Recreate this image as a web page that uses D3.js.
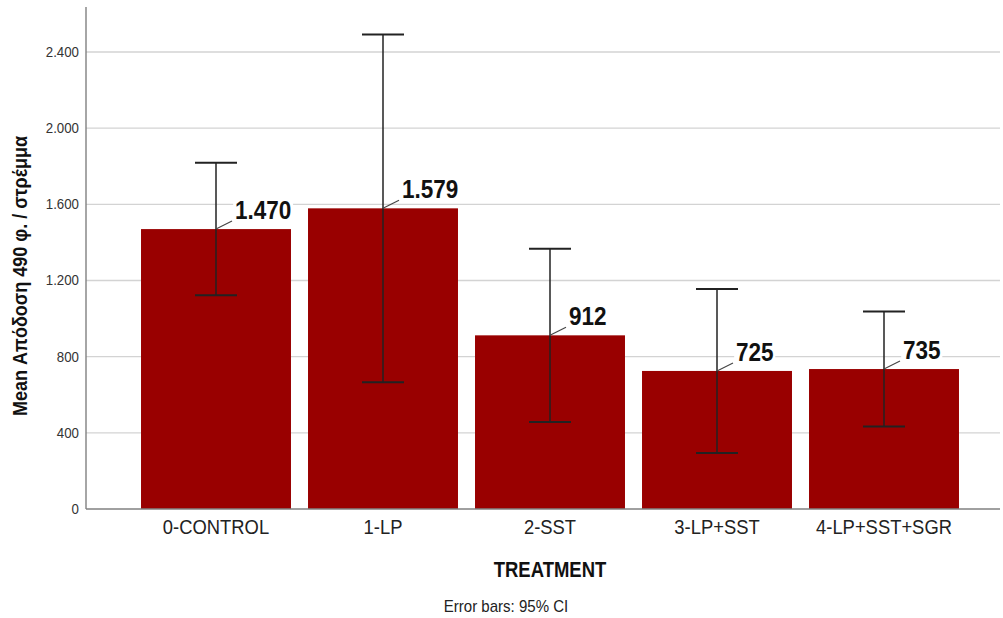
<!DOCTYPE html>
<html>
<head>
<meta charset="utf-8">
<script src="https://cdn.jsdelivr.net/npm/d3@7"></script>
<style>
  body { margin: 0; background: #fff; }
  svg { display: block; }
  text { font-family: "Liberation Sans", Arial, sans-serif; }
</style>
</head>
<body>
<svg id="chart" width="1003" height="618"></svg>
<script>
// Mean yield per treatment with 95% confidence limits
const treatments = ["0-CONTROL", "1-LP", "2-SST", "3-LP+SST", "4-LP+SST+SGR"];
const meanYield  = [1470, 1579, 912, 725, 735];
const ciLower    = [1122, 666, 457, 294, 433];
const ciUpper    = [1818, 2492, 1367, 1156, 1037];
const yTicks     = [0, 400, 800, 1200, 1600, 2000, 2400];
const yTitle   = "Mean Απόδοση 490 φ. / στρέμμα";
const xTitle   = "TREATMENT";
const footnote = "Error bars: 95% CI";

const rows = treatments.map((t, i) => ({
  name: t, mean: meanYield[i], lo: ciLower[i], hi: ciUpper[i]
}));

const svg = d3.select("#chart");
const plot = { left: 86, right: 1000, top: 7, bottom: 509 };

const y = d3.scaleLinear().domain([0, 2400]).range([plot.bottom, 52]);
const x = d3.scaleBand()
  .domain(treatments)
  .range([132.5, 967.5])
  .paddingInner(0.102)
  .paddingOuter(0.051);

// Greek-style number format: dot as thousands separator
const locale = d3.formatLocale({ decimal: ",", thousands: ".", grouping: [3], currency: ["", "€"] });
const fmt = locale.format(",d");

// horizontal gridlines
svg.append("g")
  .selectAll("line")
  .data(yTicks.filter(d => d > 0))
  .join("line")
  .attr("x1", plot.left).attr("x2", plot.right)
  .attr("y1", d => y(d)).attr("y2", d => y(d))
  .attr("stroke", "#d3d3d3")
  .attr("stroke-width", 1.4);

// bars
svg.append("g")
  .selectAll("rect")
  .data(rows)
  .join("rect")
  .attr("x", d => x(d.name))
  .attr("width", x.bandwidth())
  .attr("y", d => y(d.mean))
  .attr("height", d => y(0) - y(d.mean))
  .attr("fill", "#990000");

// axis lines
svg.append("line")
  .attr("x1", plot.left).attr("x2", plot.left)
  .attr("y1", plot.top).attr("y2", plot.bottom)
  .attr("stroke", "#808080").attr("stroke-width", 1.4);
svg.append("line")
  .attr("x1", plot.left).attr("x2", plot.right)
  .attr("y1", plot.bottom).attr("y2", plot.bottom)
  .attr("stroke", "#808080").attr("stroke-width", 1.4);

// y axis labels
const yAxis = svg.append("g")
  .attr("transform", `translate(${plot.left},0)`)
  .call(d3.axisLeft(y).tickValues(yTicks).tickFormat(fmt).tickSize(0).tickPadding(7));
yAxis.select(".domain").remove();
yAxis.selectAll("text")
  .attr("x", 0)
  .attr("transform", "translate(-7,0) scale(0.95,1)")
  .attr("font-size", 14)
  .attr("fill", "#333")
  .style("font-family", "'Liberation Sans', Arial, sans-serif");

// x axis labels (slightly condensed)
const xAxis = svg.append("g")
  .attr("transform", `translate(0,${plot.bottom})`)
  .call(d3.axisBottom(x).tickSize(0).tickPadding(11));
xAxis.select(".domain").remove();
xAxis.selectAll("text")
  .attr("transform", "scale(0.92,1)")
  .attr("font-size", 20)
  .attr("fill", "#222")
  .style("font-family", "'Liberation Sans', Arial, sans-serif");

// error bars
const capHalf = 21;
const eb = svg.append("g").attr("stroke", "#222");
eb.selectAll("line.stem")
  .data(rows)
  .join("line")
  .attr("class", "stem")
  .attr("x1", d => x(d.name) + x.bandwidth() / 2)
  .attr("x2", d => x(d.name) + x.bandwidth() / 2)
  .attr("y1", d => y(d.hi)).attr("y2", d => y(d.lo))
  .attr("stroke-width", 1.5);
eb.selectAll("line.capHi")
  .data(rows)
  .join("line")
  .attr("class", "capHi")
  .attr("x1", d => x(d.name) + x.bandwidth() / 2 - capHalf)
  .attr("x2", d => x(d.name) + x.bandwidth() / 2 + capHalf)
  .attr("y1", d => y(d.hi)).attr("y2", d => y(d.hi))
  .attr("stroke-width", 2);
eb.selectAll("line.capLo")
  .data(rows)
  .join("line")
  .attr("class", "capLo")
  .attr("x1", d => x(d.name) + x.bandwidth() / 2 - capHalf)
  .attr("x2", d => x(d.name) + x.bandwidth() / 2 + capHalf)
  .attr("y1", d => y(d.lo)).attr("y2", d => y(d.lo))
  .attr("stroke-width", 2);

// value labels with leader lines and white backing
const lab = svg.append("g")
  .selectAll("g")
  .data(rows)
  .join("g")
  .attr("transform", d => `translate(${x(d.name) + x.bandwidth() / 2},${y(d.mean)})`);
lab.append("line")
  .attr("x1", 0).attr("y1", 0)
  .attr("x2", 16).attr("y2", -8)
  .attr("stroke", "#444").attr("stroke-width", 1.1);
const bg = lab.append("rect").attr("fill", "#fff");
const lt = lab.append("text")
  .attr("transform", "translate(19,-10) scale(0.9,1)")
  .attr("font-size", 25)
  .attr("font-weight", "bold")
  .attr("fill", "#111")
  .text(d => fmt(d.mean));
lt.each(function () {
  const b = this.getBBox();
  d3.select(this.previousSibling)
    .attr("x", 19 + (b.x - 2) * 0.9).attr("y", -10 + b.y + 3)
    .attr("width", (b.width + 4) * 0.9).attr("height", b.height - 4);
});

// axis titles
svg.append("text")
  .attr("transform", `translate(27,${(plot.top + plot.bottom) / 2 + 18}) rotate(-90) scale(0.88,1)`)
  .attr("text-anchor", "middle")
  .attr("font-size", 20.5)
  .attr("font-weight", "bold")
  .attr("fill", "#111")
  .text(yTitle);

svg.append("text")
  .attr("transform", "translate(550,577) scale(0.86,1)")
  .attr("text-anchor", "middle")
  .attr("font-size", 21.5)
  .attr("font-weight", "bold")
  .attr("fill", "#111")
  .text(xTitle);

svg.append("text")
  .attr("transform", "translate(506,612) scale(0.94,1)")
  .attr("text-anchor", "middle")
  .attr("font-size", 16)
  .attr("fill", "#222")
  .text(footnote);
</script>
</body>
</html>
